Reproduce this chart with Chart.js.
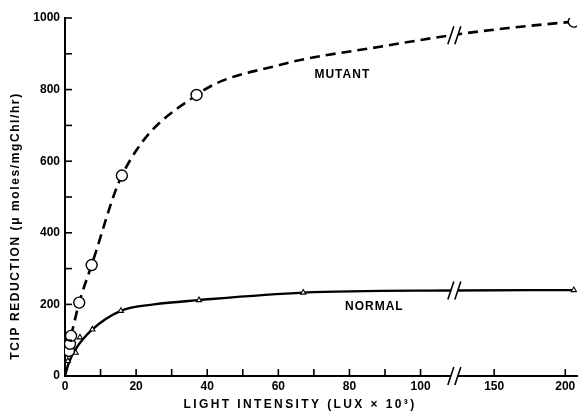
<!DOCTYPE html>
<html>
<head>
<meta charset="utf-8">
<script src="https://cdn.jsdelivr.net/npm/chart.js@4/dist/chart.umd.min.js"></script>
<style>
  html, body { margin: 0; background: #fff; }
  #wrap { width: 584px; height: 415px; }
</style>
</head>
<body>
<div id="wrap"><canvas id="c"></canvas></div>
<script>
// measured points (light intensity in lux x 10^3)
const mutantX = [1.1, 1.4, 1.7, 4, 7.5, 16, 37, 206];
const mutantY = [70, 90, 112, 205, 310, 560, 785, 990];
const normalX = [0.8, 3, 4.2, 7.7, 15.7, 37.7, 67, 206];
const normalY = [42, 65, 108, 130, 182, 212, 233, 240];

// hand drawn fitted curves
const mutantCurveX = [1.7, 4, 7.5, 16, 37, 60, 90, 120, 160, 206];
const mutantCurveY = [112, 205, 310, 560, 785, 868, 922, 952, 972, 990];
const normalCurveX = [0, 1, 3, 7.7, 15.7, 25, 37.7, 67, 120, 206];
const normalCurveY = [0, 35, 75, 130, 182, 200, 212, 233, 239, 240];

const xTickValues = [0, 10, 20, 30, 40, 50, 60, 70, 80, 90, 100, 150, 200];
const xTickLabels = ['0', '', '20', '', '40', '', '60', '', '80', '', '100', '150', '200'];
const yTickLabels = ['0', '', '200', '', '400', '', '600', '', '800', '', '1000'];

const xTitle = 'LIGHT INTENSITY (LUX × 10³)';
const yTitle = 'TCIP REDUCTION (μ moles/mgChl/hr)';

// axis is broken between 100 and 150; the right part is compressed
const breakAt = 122;
const breakY = [952, 239];
function brk(x) {
  return x <= 110 ? x : 109.5 + (x - breakAt) * 0.4;
}
const pts = (xs, ys) => xs.map((x, i) => ({ x: brk(x), y: ys[i] }));

const FONT = 'Liberation Sans, Arial, sans-serif';

const extras = {
  id: 'extras',
  afterDraw(chart) {
    const { ctx, scales: { x, y } } = chart;
    ctx.save();
    ctx.strokeStyle = '#000';
    ctx.lineWidth = 1.6;
    // ticks point into the plot
    x.ticks.forEach(t => {
      const px = x.getPixelForValue(t.value);
      if (px <= x.left + 1) return;
      ctx.beginPath();
      ctx.moveTo(px, y.bottom);
      ctx.lineTo(px, y.bottom - 7);
      ctx.stroke();
    });
    y.ticks.forEach(t => {
      const py = y.getPixelForValue(t.value);
      if (py >= y.bottom - 1) return;
      ctx.beginPath();
      ctx.moveTo(x.left, py);
      ctx.lineTo(x.left + 7, py);
      ctx.stroke();
    });

    // axis break marks on the x axis and on each curve
    const bx = x.getPixelForValue(brk(breakAt));
    const marks = [y.bottom].concat(breakY.map(v => y.getPixelForValue(v)));
    marks.forEach(by => {
      ctx.fillStyle = '#fff';
      ctx.beginPath();
      ctx.moveTo(bx - 5, by + 5);
      ctx.lineTo(bx + 1, by + 5);
      ctx.lineTo(bx + 5, by - 5);
      ctx.lineTo(bx - 1, by - 5);
      ctx.closePath();
      ctx.fill();
      ctx.lineWidth = 1.6;
      [-3.5, 3.5].forEach(off => {
        ctx.beginPath();
        ctx.moveTo(bx + off - 3, by + 9);
        ctx.lineTo(bx + off + 3, by - 9);
        ctx.stroke();
      });
    });

    ctx.fillStyle = '#000';
    ctx.textAlign = 'center';
    ctx.textBaseline = 'middle';
    ctx.font = 'bold 12px ' + FONT;
    ctx.letterSpacing = '1px';
    ctx.fillText('MUTANT', x.getPixelForValue(78), y.getPixelForValue(841));
    ctx.fillText('NORMAL', x.getPixelForValue(87), y.getPixelForValue(193));

    // axis titles, spaced out like the typewriter lettering of the original
    ctx.font = 'bold 12px ' + FONT;
    ctx.letterSpacing = '2.4px';
    ctx.fillText(xTitle, 300, 405);
    ctx.save();
    ctx.translate(16, 226);
    ctx.rotate(-Math.PI / 2);
    ctx.letterSpacing = '1.6px';
    ctx.fillText(yTitle, 0, 0);
    ctx.restore();
    ctx.restore();
  }
};

new Chart('c', {
  type: 'scatter',
  data: {
    datasets: [
      {
        label: 'mutant',
        data: pts(mutantX, mutantY),
        pointStyle: 'circle',
        pointRadius: 5.5,
        pointBorderWidth: 1.4,
        pointBackgroundColor: '#fff',
        pointBorderColor: '#000',
        showLine: false,
        order: 0
      },
      {
        label: 'normal',
        data: pts(normalX, normalY),
        pointStyle: 'triangle',
        pointRadius: 3,
        pointBorderWidth: 1.1,
        pointBackgroundColor: '#fff',
        pointBorderColor: '#000',
        showLine: false,
        order: 0
      },
      {
        label: 'mutant curve',
        data: pts(mutantCurveX, mutantCurveY),
        showLine: true,
        pointRadius: 0,
        borderColor: '#000',
        borderWidth: 2.6,
        borderDash: [10, 6],
        cubicInterpolationMode: 'monotone',
        order: 1
      },
      {
        label: 'normal curve',
        data: pts(normalCurveX, normalCurveY),
        showLine: true,
        pointRadius: 0,
        borderColor: '#000',
        borderWidth: 2.4,
        cubicInterpolationMode: 'monotone',
        order: 1
      }
    ]
  },
  options: {
    responsive: true,
    maintainAspectRatio: false,
    animation: false,
    layout: { padding: { left: 0, top: 18, right: 7, bottom: 0 } },
    plugins: { legend: { display: false }, tooltip: { enabled: false } },
    scales: {
      x: {
        type: 'linear',
        min: 0,
        max: 144,
        afterBuildTicks: s => { s.ticks = xTickValues.map(v => ({ value: brk(v) })); },
        afterFit: s => { s.height = 39; },
        grid: { display: false, drawTicks: false },
        border: { display: true, color: '#000', width: 2 },
        ticks: {
          color: '#000',
          font: { family: FONT, size: 12, weight: 'bold' },
          padding: 3,
          maxRotation: 0,
          autoSkip: false,
          callback: (v, i) => xTickLabels[i]
        }
      },
      y: {
        min: 0,
        max: 1000,
        afterFit: s => { s.width = 65; },
        grid: { display: false, drawTicks: false },
        border: { display: true, color: '#000', width: 2 },
        ticks: {
          stepSize: 100,
          color: '#000',
          font: { family: FONT, size: 12, weight: 'bold' },
          padding: 5,
          autoSkip: false,
          callback: (v, i) => yTickLabels[i]
        }
      }
    }
  },
  plugins: [extras]
});
</script>
</body>
</html>
